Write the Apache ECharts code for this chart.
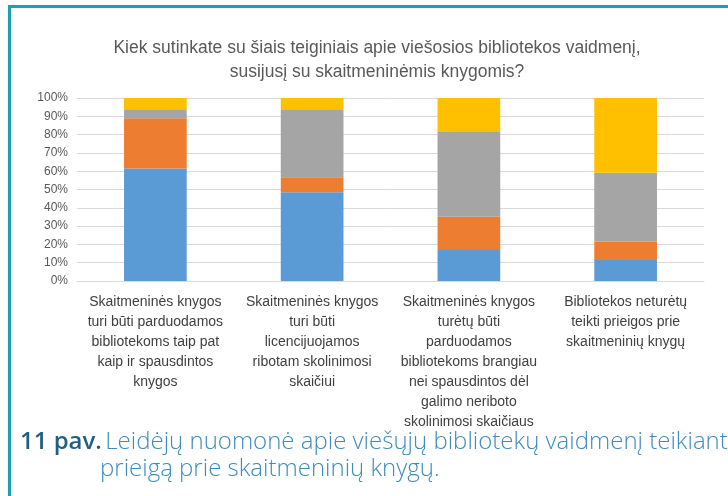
<!DOCTYPE html>
<html>
<head>
<meta charset="utf-8">
<script src="https://cdn.jsdelivr.net/npm/echarts@6/dist/echarts.min.js"></script>
<style>
  html, body { margin: 0; padding: 0; background: #fff; }
  #chart { width: 728px; height: 496px; }
</style>
</head>
<body>
<div id="chart"></div>
<script>
// categories (wrapped as in the reference)
const categories = [
  'Skaitmeninės knygos\nturi būti parduodamos\nbibliotekoms taip pat\nkaip ir spausdintos\nknygos',
  'Skaitmeninės knygos\nturi būti\nlicencijuojamos\nribotam skolinimosi\nskaičiui',
  'Skaitmeninės knygos\nturėtų būti\nparduodamos\nbibliotekoms brangiau\nnei spausdintos dėl\ngalimo neriboto\nskolinimosi skaičiaus',
  'Bibliotekos neturėtų\nteikti prieigos prie\nskaitmeninių knygų'
];

// stacked shares, % (bottom to top)
const blueVals = [61.5, 48.5, 16.9, 11.5];
const orangeVals = [27.4, 8.2, 18.2, 10.0];
const grayVals = [4.9, 37.1, 46.7, 37.7];
const yellowVals = [6.2, 6.2, 18.2, 40.8];

const colors = ['#5B9BD5', '#ED7D31', '#A5A5A5', '#FFC000'];
const font = 'Liberation Sans Narrow, Liberation Sans, sans-serif';

const chart = echarts.init(document.getElementById('chart'));

const mkSeries = (name, data, i) => ({
  name: name,
  type: 'bar',
  stack: 'total',
  data: data,
  barWidth: '40%',
  itemStyle: { color: colors[i] }
});

chart.setOption({
  animation: false,
  title: {
    text: 'Kiek sutinkate su šiais teiginiais apie viešosios bibliotekos vaidmenį,\nsusijusį su skaitmeninėmis knygomis?',
    left: 372,
    top: 31,
    textAlign: 'center',
    textStyle: {
      fontFamily: font,
      fontSize: 17.5,
      fontWeight: 'normal',
      color: '#595959',
      lineHeight: 24
    }
  },
  grid: { left: 77, right: 24, top: 98, bottom: 215 },
  xAxis: {
    type: 'category',
    data: categories,
    axisLine: { lineStyle: { color: '#D9D9D9' } },
    axisTick: { show: false },
    axisLabel: {
      interval: 0,
      margin: 11,
      fontFamily: font,
      fontSize: 14,
      lineHeight: 20,
      color: '#404040'
    }
  },
  yAxis: {
    type: 'value',
    min: 0,
    max: 100,
    interval: 10,
    axisLine: { show: false },
    axisTick: { show: false },
    axisLabel: {
      formatter: '{value}%',
      margin: 9,
      fontFamily: font,
      fontSize: 12,
      color: '#595959'
    },
    splitLine: { lineStyle: { color: '#D9D9D9', width: 1 } }
  },
  series: [
    mkSeries('blue', blueVals, 0),
    mkSeries('orange', orangeVals, 1),
    mkSeries('gray', grayVals, 2),
    mkSeries('yellow', yellowVals, 3)
  ],
  graphic: [
    { type: 'rect', shape: { x: 8, y: 5, width: 720, height: 3 }, style: { fill: '#1FA0AD' } },
    { type: 'rect', shape: { x: 8, y: 5, width: 3, height: 491 }, style: { fill: '#1FA0AD' } },
    {
      type: 'text',
      left: 20,
      top: 430,
      style: {
        text: '{b|11 pav.} {n|Leidėjų nuomonė apie viešųjų bibliotekų vaidmenį teikiant}\n{s|}{n|prieigą prie skaitmeninių knygų.}',
        rich: {
          b: { fontFamily: 'Open Sans', fontSize: 24, fontWeight: 600, fill: '#1F5F82', lineHeight: 27 },
          n: { fontFamily: 'Open Sans', fontSize: 24, fontWeight: 300, fill: '#3C8CBE', lineHeight: 27 },
          s: { width: 80, lineHeight: 27 }
        }
      }
    }
  ]
});
</script>
</body>
</html>
